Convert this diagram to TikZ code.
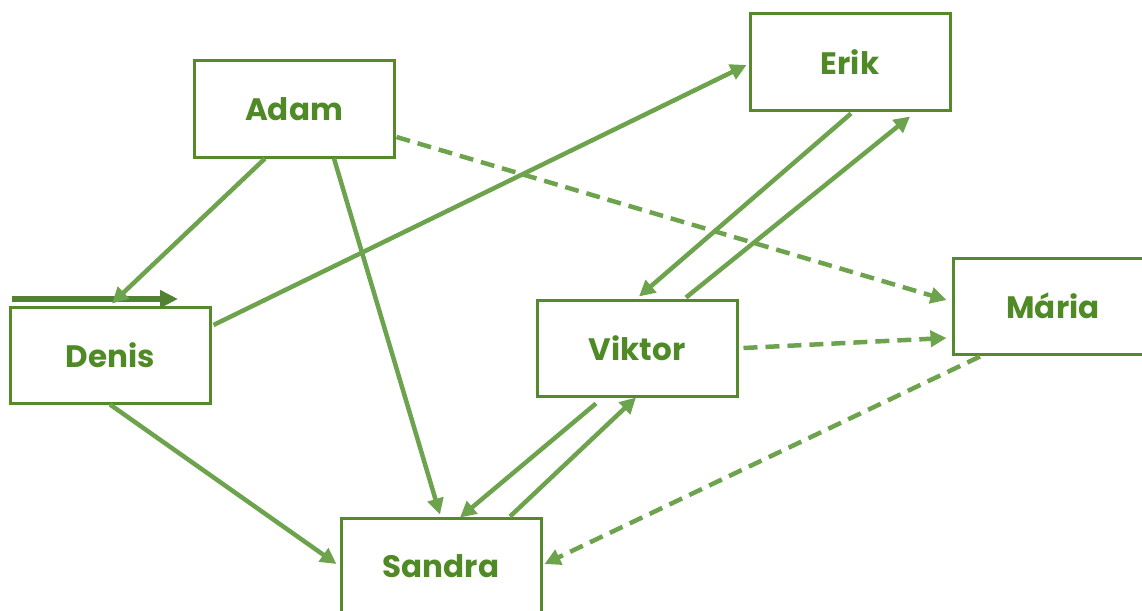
\documentclass[tikz,border=0pt]{standalone}
\usepackage{fontspec}
\setmainfont{Poppins}
\usetikzlibrary{arrows.meta,calc}
\definecolor{boxgreen}{RGB}{84,138,44}
\definecolor{txtgreen}{RGB}{80,138,38}
\definecolor{arrgreen}{RGB}{110,163,78}
\definecolor{darkgreen}{RGB}{80,130,50}
\begin{document}
\begin{tikzpicture}[x=1pt,y=-1pt,
  person/.style={draw=boxgreen,line width=3pt,fill=white,minimum width=200pt,minimum height=96pt,inner sep=0pt,font=\fontsize{31}{36}\selectfont\bfseries,text=txtgreen},
  link/.style={draw=arrgreen,line width=4.5pt,-{Triangle[length=16pt,width=16pt]}},
  weak/.style={link,dash pattern=on 14pt off 8pt},
  strong/.style={draw=darkgreen,line width=6pt,-{Triangle[length=18pt,width=17pt]}}]
\useasboundingbox (0,0) rectangle (1142,610);
\clip (0,0) rectangle (1142,610);
\node[person] (adam) at (294,109) {Adam};
\node[person] (erik) at (850,62) {Erik};
\node[person] (denis) at (110,355) {Denis};
\node[person] (viktor) at (637,348) {Viktor};
\node[person] (maria) at (1053,306) {Mária};
\node[person] (sandra) at (441,566) {Sandra};
\coordinate (s1) at (12,299);
\coordinate (s2) at (178,299);
\draw[strong] (s1) -- (s2);
\draw[link] ($(adam.south)+(-29,0)$) -- ($(denis.north)+(2,-2)$);
\draw[link] ($(adam.south)+(40,0)$) -- ($(sandra.north)+(-1,-2)$);
\draw[weak] ($(adam.east)+(1,28)$) -- ($(maria.west)+(-5,-6)$);
\draw[link] ($(denis.east)+(2,-30)$) -- ($(erik.west)+(-2,3)$);
\draw[link] (denis.south) -- ($(sandra.west)+(-3,-2)$);
\draw[link] ($(erik.south)+(1,2)$) -- ($(viktor.north)+(2,-2)$);
\draw[link] ($(viktor.north)+(49,-1)$) -- ($(erik.south)+(60,5)$);
\draw[weak] ($(viktor.east)+(5,0)$) -- ($(maria.west)+(-5,32)$);
\draw[link] ($(viktor.south)+(-41,6)$) -- ($(sandra.north)+(19,1)$);
\draw[link] ($(sandra.north)+(69,0)$) -- ($(viktor.south)+(-1,0)$);
\draw[weak] ($(maria.south)+(-73,1)$) -- ($(sandra.east)+(2,-2)$);
\end{tikzpicture}
\end{document}
